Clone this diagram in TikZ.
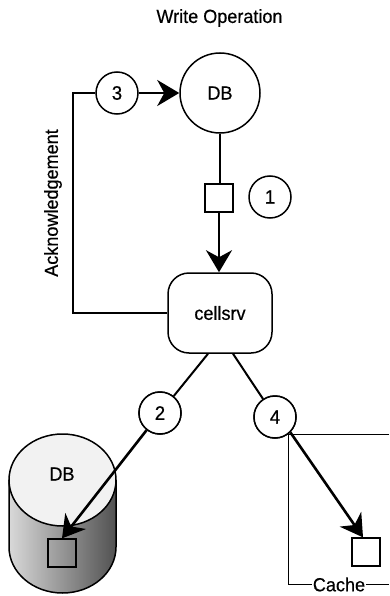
\documentclass[tikz,border=0pt]{standalone}
\usepackage{fontspec}
\setmainfont[FakeStretch=0.95,FakeBold=0.5]{Liberation Sans}
\usetikzlibrary{arrows.meta}
\tikzset{
  numcircle/.style = {draw, circle, line width = 1.5pt, fill = white, inner sep = 0pt, minimum size = 42pt, font = \fontsize{19.5}{20}\selectfont},
  blockbox/.style = {draw, rectangle, line width = 1.3pt, inner sep = 0pt, minimum size = 28pt},
  wire/.style = {line width = 2pt},
  bigarrow/.style = {line width = 2.6pt, -{Stealth[length = 22pt, width = 26pt, inset = 7pt]}},
  plainlabel/.style = {font = \fontsize{19}{20}\selectfont}
}
\begin{document}
\begin{tikzpicture}[x = 1pt, y = 1pt]
\useasboundingbox (0, 0) rectangle (389, -596);

\node[plainlabel] (title) at (219.5, -18) {Write Operation};

\fill[left color = black!15, middle color = black!35, right color = black!68] (9, -480) -- (9, -547) arc[start angle = 180, end angle = 360, x radius = 53.5, y radius = 46] -- (116, -480) -- cycle;
\draw[line width = 1.5pt] (9, -480) -- (9, -547) arc[start angle = 180, end angle = 360, x radius = 53.5, y radius = 46] -- (116, -480);
\draw[line width = 1.5pt, fill = black!5] (62.5, -480) ellipse[x radius = 53.5, y radius = 46];
\node[plainlabel] (dblabel) at (62, -474) {DB};
\node[blockbox] (dbblock) at (62, -553) {};

\node[draw, circle, line width = 1.5pt, inner sep = 0pt, minimum size = 80pt, plainlabel] (db) at (220, -93) {DB};
\node[numcircle] (three) at (117, -93) {3};
\node[numcircle] (one) at (270, -197) {1};
\node[blockbox] (block) at (219, -198) {};
\node[draw, rectangle, rounded corners = 21pt, line width = 1.5pt, minimum width = 104pt, minimum height = 80pt, plainlabel] (cellsrv) at (220, -313) {cellsrv};
\node[numcircle] (two) at (160, -413) {2};
\node[numcircle] (four) at (275, -417) {4};
\node[blockbox] (cacheblock) at (366, -552) {};
\node[plainlabel, rotate = 90] (ack) at (53, -203) {Acknowledgement};
\node[plainlabel, inner sep = 1pt] (cache) at (339, -584.5) {Cache};

\coordinate (cachetopleft) at (288, -434);
\coordinate (cachetopright) at (389, -434);
\coordinate (cachebotright) at (389, -584.5);
\draw[line width = 0.8pt] (cachetopright) -- (cachetopleft) |- (cache.west);
\draw[line width = 0.8pt] (cache.east) -- (cachebotright);

\draw[wire] (cellsrv.west) -| (73, -93) -- (three.west);
\draw[bigarrow] (three.east) -- (db.west);
\draw[wire] (db.south) -- (block.north -| db.south);
\draw[bigarrow] (block.south) -- (cellsrv.north -| block.south);
\draw[wire] (cellsrv.south -| 208, 0) -- (two);
\draw[wire] (cellsrv.south -| 233, 0) -- (four);
\draw[bigarrow] (two) -- (dbblock.north);
\draw[bigarrow] (four.-45) -- ([xshift = -3pt]cacheblock.north);
\node[numcircle] at (two) {2};
\node[numcircle] at (four) {4};
\end{tikzpicture}
\end{document}
